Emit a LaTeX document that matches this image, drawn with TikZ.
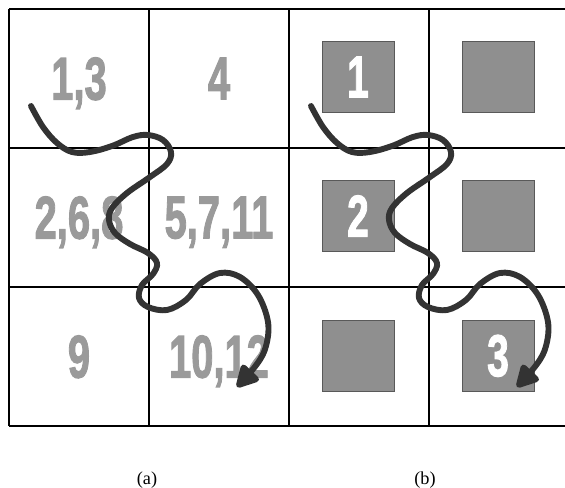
\documentclass[tikz,border=0pt]{standalone}
\usepackage{fontspec}
\setmainfont{Liberation Serif}
\newfontfamily\numfont{Liberation Sans}[BoldFeatures={FakeBold=2}]
\usetikzlibrary{arrows.meta}
\definecolor{numgray}{HTML}{9A9A9A}
\definecolor{boxgray}{HTML}{8F8F8F}
\definecolor{pathgray}{HTML}{333333}
\newcommand{\cellnum}[1]{\scalebox{0.66}[1]{\bfseries #1}}
\tikzstyle{gridline} = [line width=1.1pt, draw=black]
\tikzstyle{count} = [inner sep=0pt, text depth=0pt, text=numgray, font=\numfont\fontsize{43}{43}\selectfont]
\tikzstyle{slot} = [rectangle, minimum width=18mm, minimum height=17.75mm, inner sep=0pt, text depth=0pt, fill=boxgray, draw=black!65, line width=0.6pt, text=white, font=\numfont\fontsize{42}{42}\selectfont]
\tikzstyle{walk} = [line width=4.2pt, draw=pathgray, line cap=round, line join=round, -{Triangle[length=18pt, width=18pt, round]}]
\tikzstyle{caption} = [font=\fontsize{13}{15}\selectfont]

\begin{document}
\begin{tikzpicture}[x=0.25mm, y=-0.25mm]
        \useasboundingbox (0,0) rectangle (565,488);
        % Grid
        \foreach \x in {9,149,289,429,569}
            \draw [gridline] (\x,9) -- (\x,426);
        \foreach \y in {9,148,287,426}
            \draw [gridline] (9,\y) -- (569,\y);

        % Nodes (a)
        \node (numA) [count] at (79,78.5) {\cellnum{1,3}};
        \node (numB) [count] at (219,78.5) {\cellnum{4}};
        \node (numC) [count] at (79,217.5) {\cellnum{2,6,8}};
        \node (numD) [count] at (219,217.5) {\cellnum{5,7,11}};
        \node (numE) [count] at (79,356.5) {\cellnum{9}};
        \node (numF) [count] at (219,356.5) {\cellnum{10,12}};

        % Nodes (b)
        \node (slotA) [slot] at (358,77) {\cellnum{1}};
        \node (slotB) [slot] at (498,77) {};
        \node (slotC) [slot] at (358,216) {\cellnum{2}};
        \node (slotD) [slot] at (498,216) {};
        \node (slotE) [slot] at (358,355.5) {};
        \node (slotF) [slot] at (498,355.5) {\cellnum{3}};

        % Arrows
        \foreach \s in {0,280}
        \draw [walk, shift={(\s,0)}] plot [smooth, tension=0.6] coordinates {
            (31,106) (43,127) (57,143) (72,152) (90,152) (112,146) (133,137)
            (148,135) (163,140) (171,152) (167,164) (150,177) (127,193)
            (112,208) (109,220) (115,233) (130,244) (148,253) (157,263)
            (153,274) (142,285) (139,298) (148,307) (167,310) (186,300)
            (200,284) (220,273) (240,277) (258,295) (268,322) (266,346)
            (257,364) (237,387)};

        % Captions
        \node (capA) [caption] at (147,480) {(a)};
        \node (capB) [caption] at (425,480) {(b)};
\end{tikzpicture}
\end{document}
